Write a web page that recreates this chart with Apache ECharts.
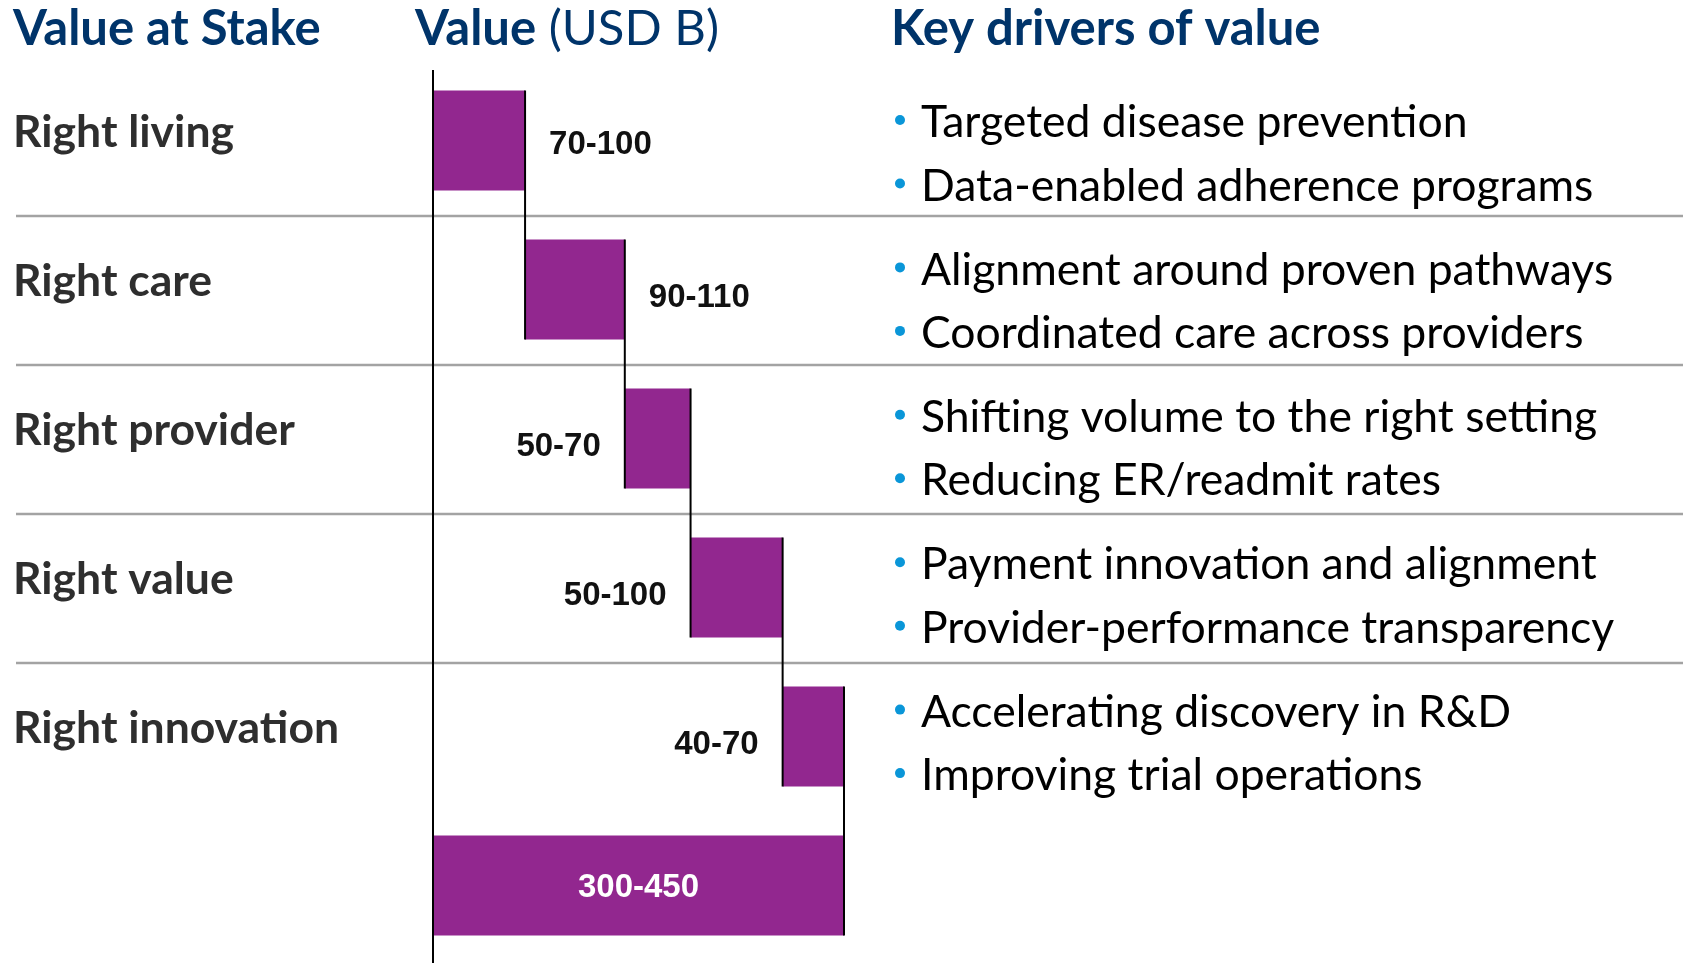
<!DOCTYPE html>
<html><head><meta charset="utf-8">
<script src="https://cdn.jsdelivr.net/npm/echarts@6/dist/echarts.min.js"></script>
<style>html,body{margin:0;padding:0;background:#fff}#c{width:1690px;height:963px}</style>
</head><body><div id="c"></div>
<script>
// ---- data ----
const categories = ['Right living', 'Right care', 'Right provider', 'Right value', 'Right innovation', ''];
const rangeLabels = ['70-100', '90-110', '50-70', '50-100', '40-70', '300-450'];
const barValues = [84, 91, 60, 84, 56];   // drawn bar lengths, USD B
const totalValue = 375;
const headerStake = 'Value at Stake';
const headerValueBold = 'Value';
const headerValueUnit = '(USD B)';
const headerDrivers = 'Key drivers of value';
const driversLine1 = ['Targeted disease prevention', 'Alignment around proven pathways', 'Shifting volume to the right setting', 'Payment innovation and alignment', 'Accelerating discovery in R&D'];
const driversLine2 = ['Data-enabled adherence programs', 'Coordinated care across providers', 'Reducing ER/readmit rates', 'Provider-performance transparency', 'Improving trial operations'];

// ---- style / layout ----
const PURPLE = '#92278F';
const NAVY = '#00346A';
const BAR_H = 100;
const labelSide = ['right', 'right', 'left', 'left', 'left', 'inside'];

const starts = []; let acc = 0;
barValues.forEach(v => { starts.push(acc); acc += v; });
const ends = barValues.map((v, i) => starts[i] + v);
const baseData = starts.concat([0]);
const valData = barValues.concat([totalValue]).map((v, i) => ({
  value: v,
  label: { position: labelSide[i], color: i === 5 ? '#ffffff' : '#111111', offset: [0, i === 0 ? 4 : (i === 5 ? 2 : 8)] }
}));

const chart = echarts.init(document.getElementById('c'), null, { renderer: 'canvas' });
chart.setOption({
  animation: false,
  backgroundColor: '#ffffff',
  grid: { left: 433, top: 66, width: 411, height: 894, outerBoundsMode: 'none', containLabel: false },
  xAxis: { type: 'value', min: 0, max: totalValue, show: false },
  yAxis: {
    type: 'category', inverse: true, data: categories,
    axisLine: { show: false },
    axisTick: { show: false },
    splitLine: { show: false },
    axisLabel: {
      interval: 0, margin: 420, align: 'left',
      formatter: v => '{a|' + v + '}',
      rich: {
        a: { fontFamily: 'Lato', fontWeight: 'bold', fontSize: 44.5, color: '#2e2e2e', padding: [0, 0, 16, 0] }
      }
    }
  },
  series: [
    { type: 'bar', stack: 'w', data: baseData, barWidth: BAR_H, itemStyle: { color: 'transparent' }, silent: true },
    {
      type: 'bar', stack: 'w', data: valData, barWidth: BAR_H,
      itemStyle: { color: PURPLE },
      label: {
        show: true, distance: 24,
        fontFamily: 'Liberation Sans, Arial, sans-serif', fontWeight: 'bold', fontSize: 33,
        formatter: p => rangeLabels[p.dataIndex]
      }
    },
    {
      type: 'custom', coordinateSystem: 'cartesian2d', z: 5,
      data: ends.map((e, i) => [e, i]),
      renderItem: function (params, api) {
        const x = api.value(0), i = api.value(1);
        const p1 = api.coord([x, i]);
        const p2 = api.coord([x, i + 1]);
        return {
          type: 'line',
          shape: { x1: p1[0], y1: p1[1] - BAR_H / 2, x2: p2[0], y2: p2[1] + BAR_H / 2 },
          style: { stroke: '#000', lineWidth: 2 }
        };
      }
    }
  ]
});

// ---- decorations: headers, axis line, separators, drivers ----
const g = [];
const HEAD_FS = 49, HEAD_Y = 48 - 0.387 * HEAD_FS;
g.push({ type: 'text', x: 13, y: HEAD_Y, style: { text: headerStake, font: 'bold ' + HEAD_FS + 'px Lato', fill: NAVY, verticalAlign: 'middle' } });
g.push({ type: 'text', x: 415, y: HEAD_Y, style: {
  text: '{b|' + headerValueBold + '} {r|' + headerValueUnit + '}',
  verticalAlign: 'middle', fill: NAVY, font: HEAD_FS + 'px Lato',
  rich: { b: { fontFamily: 'Lato', fontWeight: 'bold', fontSize: HEAD_FS, fill: NAVY }, r: { fontFamily: 'Lato', fontWeight: 'normal', fontSize: HEAD_FS, fill: NAVY } }
} });
g.push({ type: 'text', x: 891, y: HEAD_Y, style: { text: headerDrivers, font: 'bold ' + HEAD_FS + 'px Lato', fill: NAVY, verticalAlign: 'middle' } });

const x0 = chart.convertToPixel({ xAxisIndex: 0 }, 0);
g.push({ type: 'line', shape: { x1: x0, y1: 70, x2: x0, y2: 963 }, style: { stroke: '#000', lineWidth: 2 }, z: 10 });

const cy = categories.map((c, i) => chart.convertToPixel({ yAxisIndex: 0 }, i));
for (let k = 0; k < 4; k++) {
  const y = (cy[k] + cy[k + 1]) / 2 + 1;
  g.push({ type: 'line', shape: { x1: 16, y1: y, x2: 1683, y2: y }, style: { stroke: '#A3A3A3', lineWidth: 2.5 }, z: 1 });
}

const DRV_FS = 44.5, DRV_TOP = 140, DRV_PITCH = 147.4, DRV_GAP = 63.5;
driversLine1.forEach((t, k) => {
  [t, driversLine2[k]].forEach((txt, j) => {
    const base = DRV_TOP + k * DRV_PITCH + j * DRV_GAP;
    g.push({ type: 'circle', shape: { cx: 900, cy: base - 20, r: 5 }, style: { fill: '#0A96D8' } });
    g.push({ type: 'text', x: 921, y: base - 0.387 * DRV_FS, style: { text: txt, font: DRV_FS + 'px Lato', fill: '#000', verticalAlign: 'middle' } });
  });
});
chart.setOption({ graphic: { elements: g } });
</script></body></html>
